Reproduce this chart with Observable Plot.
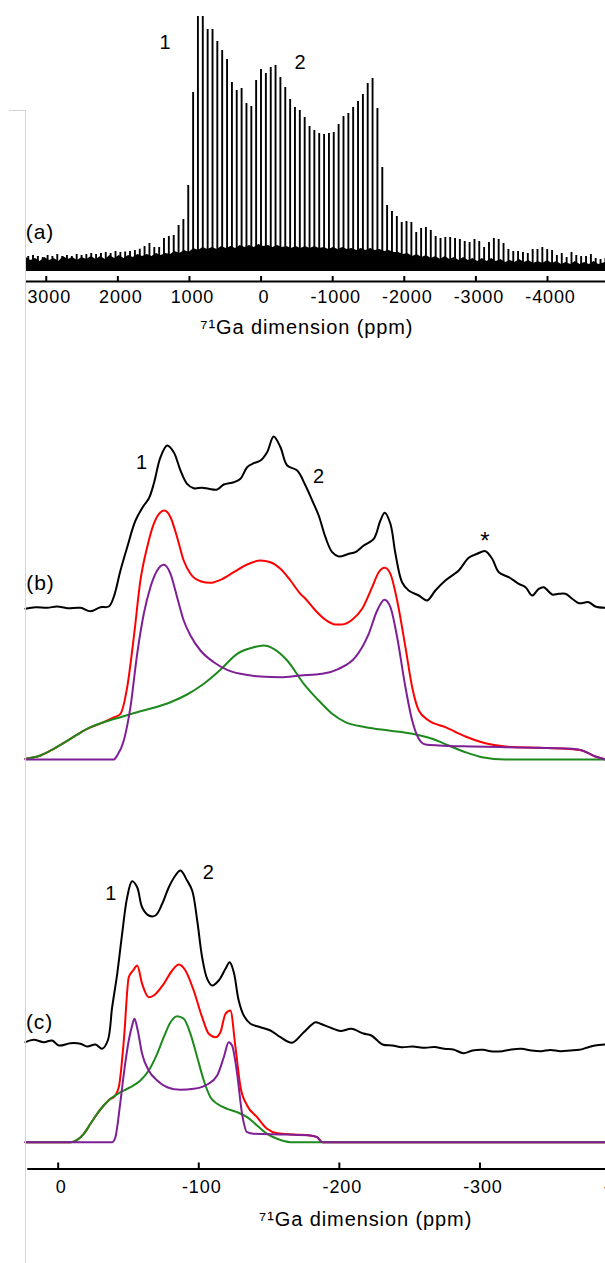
<!DOCTYPE html>
<html><head><meta charset="utf-8">
<script src="https://cdn.jsdelivr.net/npm/d3@7"></script>
<script src="https://cdn.jsdelivr.net/npm/@observablehq/plot@0.6"></script>
<style>
body{margin:0;background:#fff;}
#fig{position:relative;width:605px;height:1263px;overflow:hidden;background:#fff;}
.panel{position:absolute;left:0;}
#frame{position:absolute;left:25px;top:110px;width:0;height:1153px;border-left:1px solid #d4d4d4;z-index:5;}
#stub{position:absolute;left:9px;top:110px;width:16px;height:0;border-top:1px solid #d4d4d4;z-index:5;}
</style></head><body>
<div id="fig"><div class="panel" id="pa" style="top:0"></div><div class="panel" id="pb" style="top:420px"></div><div class="panel" id="pc" style="top:840px"></div><div id="frame"></div><div id="stub"></div></div>
<script>
// ---------- Panel (a): 71Ga sideband spectrum ----------
const spikesA = [[3252,25],[3185,26],[3117,25],[3049,24],[2981,26],[2914,25],[2846,27],[2778,25],[2711,26],[2643,25],[2575,27],[2507,26],[2440,27],[2372,28],[2304,27],[2236,28],[2169,29],[2101,28],
[2033,30],[1965,29],[1898,29.5],[1830,30],[1762,31],[1694,32.3],[1627,35],[1559,38],[1491,34],[1423,34],[1356,43],[1288,45],[1220,46],[1152,56],[1085,62],
[1017,96],[949,189],[882,265],[814,265],[746,252],[678,252],[611,240],[543,231],[475,222],[407,199],[340,191],[272,193],[204,178],[136,175],[69,201],[1,212],[-67,208],[-135,214],[-202,216],[-270,204],[-338,194],[-406,182],[-473,174],[-541,171],[-609,164],[-677,155],[-744,151],[-812,148],[-880,147],[-948,148],[-1015,149],[-1083,157],[-1151,165],[-1219,168],[-1286,174],[-1354,180],[-1422,187],[-1489,198],[-1557,203],[-1625,173],[-1693,114],[-1760,76],[-1828,70],
[-1896,65],[-1964,59],[-2031,60],[-2099,59],[-2167,49],[-2235,53],[-2302,54],[-2370,51],[-2438,45],[-2506,43],[-2573,44],[-2641,44],[-2709,43],[-2776,42],[-2844,40],[-2912,39],[-2980,42],[-3047,40],[-3115,34],[-3183,39],[-3251,43],[-3318,42],[-3386,38],[-3454,32],[-3522,30],[-3589,30],[-3657,29],[-3725,28],[-3793,32],[-3860,32],[-3928,34],[-3996,32],[-4064,31],[-4131,26],[-4199,28],[-4267,24],[-4335,29],[-4402,26],[-4470,25],[-4538,25],[-4606,27],[-4673,23],[-4741,22],[-4809,23]];
const noiseA = [[3280,24],[3215,21],[3150,23],[3085,20],[3020,24],[2955,21],[2890,23],[2825,20],[2760,25],[2695,22],[2630,24],[2565,21],[2500,24],[2435,22],[2370,25],[2305,22],[2240,25],[2175,22],[2110,26],[2045,23],[1980,26],[1915,23],[1850,26],[1785,24],[1720,27],[1655,25],[1590,27],[1525,25],[1460,28],[1395,26],[1330,28],[1265,27],[1200,30],[1135,28],[1070,31],[1005,29],[940,33],[875,31],[810,34],[745,32],[680,34],[615,32],[550,35],[485,33],[420,35],[355,33],[290,36],[225,34],[160,36],[95,34],[30,37],[-35,35],[-100,36],[-165,34],[-230,36],[-295,34],[-360,35],[-425,33],[-490,35],[-555,33],[-620,35],[-685,33],[-750,35],[-815,33],[-880,34],[-945,32],[-1010,34],[-1075,32],[-1140,34],[-1205,32],[-1270,33],[-1335,31],[-1400,33],[-1465,31],[-1530,33],[-1595,31],[-1660,32],[-1725,30],[-1790,31],[-1855,29],[-1920,29],[-1985,27],[-2050,28],[-2115,25],[-2180,27],[-2245,24],[-2310,26],[-2375,23],[-2440,25],[-2505,22],[-2570,25],[-2635,22],[-2700,24],[-2765,21],[-2830,24],[-2895,21],[-2960,23],[-3025,20],[-3090,23],[-3155,20],[-3220,23],[-3285,20],[-3350,22],[-3415,19],[-3480,21],[-3545,19],[-3610,22],[-3675,19],[-3740,21],[-3805,18],[-3870,20],[-3935,18],[-4000,21],[-4065,18],[-4130,20],[-4195,17],[-4260,19],[-4325,17],[-4390,20],[-4455,17],[-4520,19],[-4585,17],[-4650,20],[-4715,17],[-4810,19]];
const noiseFloorA = 10;
const tickPpmA = [3000,2000,1000,0,-1000,-2000,-3000,-4000];
const tickLabelsA = ["3000","2000","1000","0","-1000","-2000","-3000","-4000"];
const labelTextA = ["1","2","(a)"];
const labelPpmA = [1334,-552,3087];
const labelIntA = [239,219,49];

// ---------- Panel (b) ----------
const bBlack = [[23.3,150.7],[16.1,152.3],[7.8,151.7],[0.7,153],[-6.4,151.3],[-15.9,151.7],[-23.0,148.3],[-30.1,152.3],[-36.0,153],[-39.5,162.3],[-44.3,189],[-49.1,212.3],[-55.0,239],[-60.9,254],[-64.4,260.7],[-68.0,275.7],[-72.8,302.3],[-77.5,314],[-82.2,307.3],[-87.0,289],[-91.7,275.7],[-96.4,271.3],[-102.4,271.7],[-107.1,270.7],[-113.1,270],[-117.8,275],[-124.9,277.3],[-129.7,280.7],[-134.4,292.3],[-139.1,296.3],[-143.9,299],[-148.6,307.3],[-153.3,323],[-158.1,312.3],[-162.9,294],[-170.0,289],[-175.9,274],[-180.7,259],[-185.3,244],[-190.1,222.3],[-194.9,207.3],[-199.6,203],[-206.7,205.7],[-211.4,207.3],[-217.3,214],[-224.5,220.7],[-229.2,239],[-232.3,246.7],[-236.3,235.7],[-239.9,205.7],[-244.6,177.3],[-249.3,169],[-256.5,164],[-262.4,159],[-268.3,169],[-275.4,179],[-284.9,189],[-292.0,201.7],[-298.0,205.7],[-303.9,208.3],[-308.7,200.7],[-313.4,187.3],[-320.5,182.3],[-327.6,175.7],[-332.4,172.3],[-337.1,164],[-341.8,170.7],[-345.4,172.3],[-351.4,165],[-356.0,165.7],[-360.8,165.7],[-365.6,160.7],[-370.3,156.3],[-377.4,157.3],[-382.1,153],[-389.2,151.7]];
const bRed = [[23.3,0.7],[12.6,4],[3.1,10.7],[-8.7,20.7],[-20.6,30.7],[-32.4,37.3],[-39.5,42],[-44.3,45.7],[-49.1,72.3],[-53.8,122.3],[-58.5,179],[-63.3,212.3],[-68.0,235.7],[-72.8,247.3],[-75.6,249],[-79.9,242.3],[-84.6,222.3],[-89.3,199],[-94.1,185.7],[-101.2,178.3],[-108.3,176.7],[-115.4,179.7],[-124.9,187.3],[-134.4,195],[-143.9,199],[-151.0,197.3],[-158.1,190.7],[-165.2,179],[-172.3,165.7],[-175.9,160.7],[-183.0,149],[-190.1,139.7],[-197.2,135],[-202.0,135],[-209.1,139.7],[-216.2,150.7],[-223.3,172.3],[-228.0,187.3],[-232.3,191.7],[-236.3,185.7],[-241.1,159],[-247.0,112.3],[-251.8,72.3],[-256.5,49],[-263.6,39],[-275.4,32.3],[-289.7,23],[-303.9,16.3],[-318.1,13],[-341.8,11.7],[-360.8,10.7],[-372.7,9],[-382.1,3],[-389.2,0]];
const bGreen = [[23.3,0.7],[12.6,4],[3.1,10.7],[-8.7,20.7],[-20.6,30.7],[-32.4,37.3],[-44.3,42.3],[-56.2,47.3],[-68.0,51.7],[-79.9,57.3],[-91.7,65],[-103.6,75.7],[-115.4,89.7],[-127.3,105.7],[-139.1,112.3],[-146.2,114],[-153.3,110.7],[-162.9,99],[-174.7,75.7],[-185.3,59],[-194.9,45.7],[-204.3,37.3],[-218.6,32.3],[-235.1,29],[-251.8,25.7],[-266.0,20.7],[-277.8,14],[-289.7,7.3],[-301.5,2.3],[-318.1,0],[-389.2,0]];
const bPurple = [[23.3,0],[-39.5,0],[-42.0,4],[-46.7,19],[-51.4,52.3],[-56.2,105.7],[-60.9,145.7],[-65.6,172.3],[-70.4,189],[-75.1,194.7],[-79.9,185.7],[-84.6,162.3],[-89.3,139],[-94.1,124],[-101.2,109],[-110.7,97.3],[-120.2,89.7],[-129.7,85.7],[-143.9,83],[-158.1,82.3],[-172.3,84],[-187.8,85.7],[-199.6,90.7],[-211.4,102.3],[-220.9,125.7],[-226.9,149],[-232.1,159.7],[-236.3,152.3],[-241.1,122.3],[-247.0,72.3],[-251.8,39],[-256.5,20.7],[-261.2,15],[-270.7,14],[-294.4,13],[-318.1,12.3],[-341.8,11.7],[-365.6,10.7],[-372.7,9],[-382.1,3],[-389.2,0]];
const labelTextB = ["1","2","*","(b)"];
const labelPpmB = [-59.7,-185.5,-303.9,12.6];
const labelIntB = [297.3,283,218,176];

// ---------- Panel (c) ----------
const cBlack = [[23.3,100],[17.4,102.4],[10.2,100],[4.3,101.7],[-0.4,96.7],[-8.7,99],[-15.9,98.4],[-20.6,95.7],[-26.5,97.7],[-31.3,93.4],[-35.3,101.7],[-38.4,135],[-42.0,168.4],[-45.5,208.4],[-49.1,245],[-52.6,261],[-56.2,255],[-59.7,235],[-64.4,226.7],[-69.2,226.7],[-74.0,238.4],[-78.7,255],[-83.4,266.7],[-87.0,271.7],[-91.7,261.7],[-95.3,251.7],[-98.9,221.7],[-102.4,185],[-106.0,163.4],[-109.5,156.7],[-114.2,161.7],[-119.0,173.4],[-122.0,180],[-124.9,170],[-128.4,141.7],[-132.0,126.7],[-136.8,118.4],[-143.9,115],[-151.0,111.7],[-158.1,105],[-166.4,99.5],[-174.7,110],[-183.0,120],[-186.5,118.4],[-195.1,113.7],[-200.8,111.2],[-208.6,113.4],[-217.1,108.7],[-222.8,106.7],[-230.7,97.7],[-237.7,96.7],[-244.5,95],[-252.0,95.7],[-261.0,94.4],[-267.6,95.2],[-274.7,93.4],[-281.1,92.7],[-288.2,89],[-294.7,91.7],[-302.2,92.4],[-308.9,90.7],[-316.0,91],[-322.4,92.7],[-329.5,93.4],[-336.6,91.7],[-343.4,91],[-350.1,92.2],[-357.2,91],[-364.3,91.7],[-370.7,92.4],[-376.5,94.7],[-381.8,96.7],[-389.2,97.7]];
const cRed = [[23.3,0],[-8.7,0],[-13.5,2.4],[-18.2,8.4],[-23.0,18.4],[-27.7,28.4],[-32.4,36.7],[-37.2,43.4],[-39.5,45],[-43.1,55],[-46.7,101.7],[-50.2,165],[-53.3,171.7],[-56.2,176.7],[-59.7,158.4],[-64.4,145],[-68.0,146.7],[-75.1,158.4],[-81.1,171.7],[-85.8,177.7],[-90.5,171.7],[-96.4,151.7],[-102.4,125],[-107.1,108.4],[-111.9,105],[-115.4,110],[-119.0,128.4],[-122.5,131.7],[-126.1,95],[-129.7,55],[-134.4,36.7],[-141.5,25],[-148.6,13.4],[-155.7,9],[-167.6,7.7],[-179.4,6.7],[-184.2,5],[-188.0,0],[-389.2,0]];
const cGreen = [[23.3,0],[-8.7,0],[-13.5,2.4],[-18.2,8.4],[-23.0,18.4],[-27.7,28.4],[-32.4,36.7],[-37.2,43.4],[-44.3,50],[-51.4,55],[-58.5,61.7],[-64.4,71.7],[-70.4,88.4],[-75.1,105],[-79.9,120],[-84.6,126],[-89.3,123.4],[-94.1,108.4],[-98.9,85],[-103.6,61.7],[-108.3,45],[-113.1,38.4],[-120.2,33.4],[-127.3,30],[-134.4,25],[-141.5,16.7],[-148.6,8.4],[-155.7,3.4],[-165.2,0],[-389.2,0]];
const cPurple = [[23.3,0],[-38.4,0],[-40.7,5],[-43.8,35],[-46.7,68.4],[-50.2,101.7],[-52.6,116.7],[-54.3,123.4],[-56.6,111.7],[-59.7,88.4],[-64.4,71.7],[-70.4,61.7],[-77.5,55],[-87.0,52.4],[-96.4,53.4],[-106.0,57.7],[-113.1,66.7],[-117.8,85],[-121.3,100],[-123.7,96.7],[-127.3,68.4],[-130.8,28.4],[-134.4,10],[-139.1,8.4],[-162.9,7.7],[-179.4,6.7],[-184.2,5],[-187.8,0],[-389.2,0]];
const tickPpmC = [0,-100,-200,-300,-400];
const tickLabelsC = ["0","-100","-200","-300","-400"];
const labelTextC = ["1","2","(c)"];
const labelPpmC = [-37.7,-107.1,13.3];
const labelIntC = [248.7,270,120];
const axisTitle = "\u2077\u00b9Ga dimension (ppm)";

// ---------- rendering ----------
const FONT = "'Liberation Sans', Arial, Helvetica, sans-serif";
const RED = "#ff0000", GREEN = "#1e8a1e", PURPLE = "#7e1f96";
const rows = (arr) => arr.map(([x, y]) => ({x, y}));
const labelRows = (t, p, v) => t.map((s, i) => ({t: s, x: p[i], y: v[i]}));
const baseStyle = {fontFamily: FONT, background: "transparent", color: "black", letterSpacing: "0.9px"};
const labelSize = d => d.t === "*" ? 24 : d.t.length > 1 ? 21 : 20;

const plotA = Plot.plot({
  width: 605, height: 350, marginTop: 0, marginBottom: 69, marginLeft: 25.7, marginRight: 0,
  x: {domain: [3280, -4810], axis: null},
  y: {domain: [0, 281], axis: null},
  style: baseStyle,
  marks: [
    Plot.areaY(rows(noiseA), {x: "x", y1: noiseFloorA, y2: "y", fill: "black", curve: "linear"}),
    Plot.ruleX(rows(spikesA), {x: "x", y1: noiseFloorA, y2: "y", stroke: "black", strokeWidth: 1.9}),
    Plot.ruleY([0], {stroke: "black", strokeWidth: 2}),
    Plot.ruleX(tickPpmA, {x: d => d, y1: 0, y2: 5, stroke: "black", strokeWidth: 2}),
    Plot.text(tickPpmA, {x: d => d, y: 0, dy: 16, dx: 3, text: (d, i) => tickLabelsA[i], fontSize: 18}),
    Plot.text([axisTitle], {frameAnchor: "bottom", dy: 52, dx: -9, text: d => d, fontSize: 20}),
    Plot.text(labelRows(labelTextA, labelPpmA, labelIntA), {x: "x", y: "y", text: "t", fontSize: labelSize})
  ]
});
document.getElementById("pa").appendChild(plotA);

const xBC = {domain: [21.6, -389.3], axis: null};
const plotB = Plot.plot({
  width: 605, height: 350, marginTop: 0, marginBottom: 11, marginLeft: 27.3, marginRight: 0,
  x: xBC,
  y: {domain: [0, 339], axis: null},
  style: baseStyle,
  marks: [
    Plot.line(rows(bBlack), {x: "x", y: "y", stroke: "black", strokeWidth: 2, curve: "catmull-rom"}),
    Plot.line(rows(bRed), {x: "x", y: "y", stroke: RED, strokeWidth: 2, curve: "monotone-x"}),
    Plot.line(rows(bGreen), {x: "x", y: "y", stroke: GREEN, strokeWidth: 2, curve: "monotone-x"}),
    Plot.line(rows(bPurple), {x: "x", y: "y", stroke: PURPLE, strokeWidth: 2, curve: "monotone-x"}),
    Plot.text(labelRows(labelTextB, labelPpmB, labelIntB), {x: "x", y: "y", text: "t", fontSize: labelSize})
  ]
});
document.getElementById("pb").appendChild(plotB);

const yMinC = -26.8;
const plotC = Plot.plot({
  width: 605, height: 423, marginTop: 0, marginBottom: 94.5, marginLeft: 27.3, marginRight: 0,
  x: xBC,
  y: {domain: [yMinC, 301.7], axis: null},
  style: baseStyle,
  marks: [
    Plot.line(rows(cBlack), {x: "x", y: "y", stroke: "black", strokeWidth: 2, curve: "catmull-rom"}),
    Plot.line(rows(cRed), {x: "x", y: "y", stroke: RED, strokeWidth: 2, curve: "monotone-x"}),
    Plot.line(rows(cGreen), {x: "x", y: "y", stroke: GREEN, strokeWidth: 2, curve: "monotone-x"}),
    Plot.line(rows(cPurple), {x: "x", y: "y", stroke: PURPLE, strokeWidth: 2, curve: "monotone-x"}),
    Plot.ruleY([yMinC], {stroke: "black", strokeWidth: 2}),
    Plot.ruleX(tickPpmC, {x: d => d, y1: yMinC, y2: yMinC + 6, stroke: "black", strokeWidth: 2}),
    Plot.text(tickPpmC, {x: d => d, y: yMinC, dy: 18, dx: 3, text: (d, i) => tickLabelsC[i], fontSize: 18}),
    Plot.text([axisTitle], {frameAnchor: "bottom", dy: 57, dx: 49, text: d => d, fontSize: 20}),
    Plot.text(labelRows(labelTextC, labelPpmC, labelIntC), {x: "x", y: "y", text: "t", fontSize: labelSize})
  ]
});
document.getElementById("pc").appendChild(plotC);
</script>
</body></html>
